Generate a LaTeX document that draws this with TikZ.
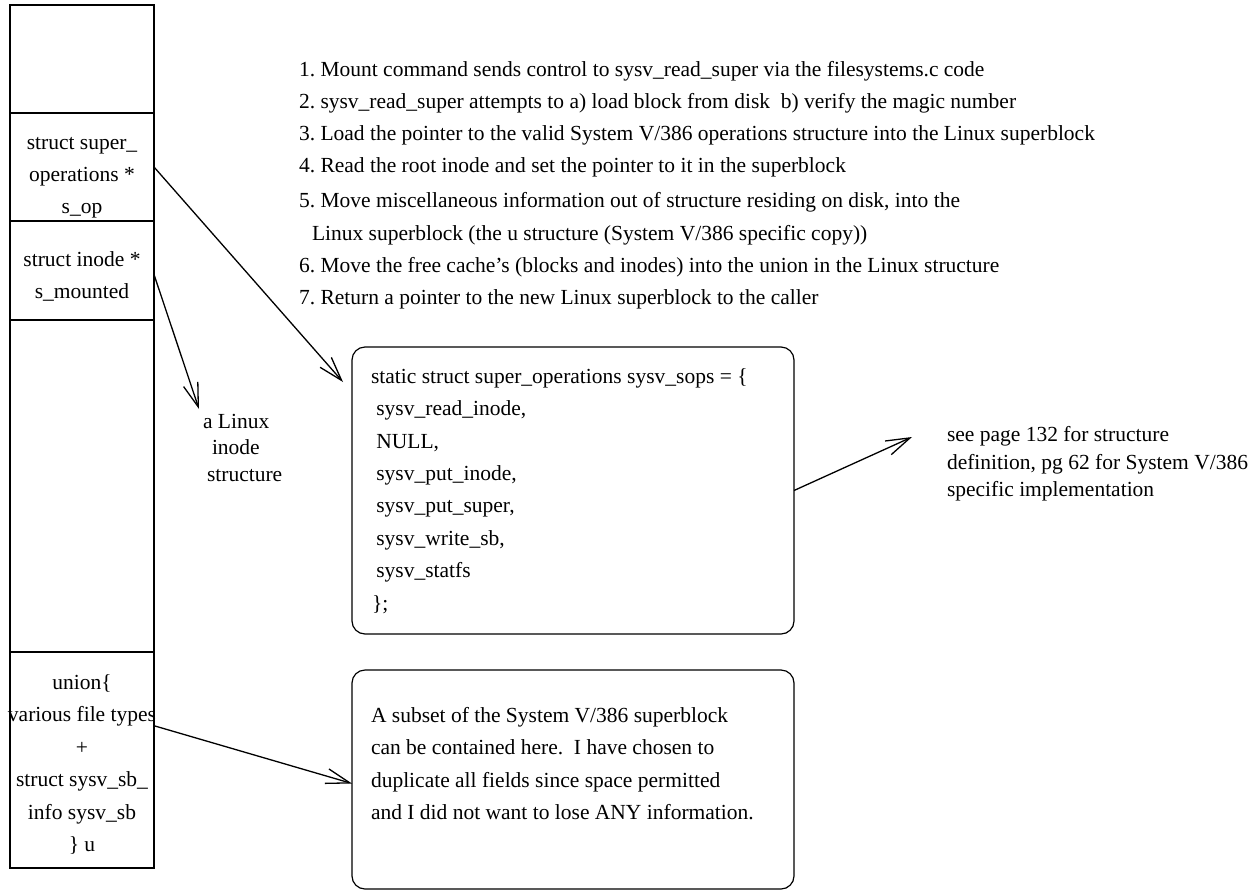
\documentclass[tikz,border=0pt]{standalone}
\usepackage{fontspec}
\setmainfont{Liberation Serif}
\usetikzlibrary{arrows.meta}
\begin{document}
\begin{tikzpicture}[x=1pt,y=-1pt,
  every node/.style={font=\fontsize{21.5}{24}\selectfont\frenchspacing, inner sep=0pt, outer sep=0pt},
  cell/.style={draw, line width=1.1pt, minimum width=144pt},
  lbl/.style={anchor=base},
  lt/.style={anchor=base west},
  rbox/.style={draw, line width=1.2pt, rounded corners=13pt, minimum width=442pt},
  arr/.style={line width=1.3pt, -{Straight Barb[length=24pt,width=15pt,line width=1.3pt]}}]
\useasboundingbox (0,0) rectangle (1260,892);

% column of the superblock
\node[cell, minimum height=108pt] (c0) at (82,59) {};
\node[cell, minimum height=108pt] (c1) at (82,167) {};
\node[cell, minimum height=99pt] (c2) at (82,270.5) {};
\node[cell, minimum height=332pt] (c3) at (82,486) {};
\node[cell, minimum height=216pt] (c4) at (82,760) {};
\draw[line width=2pt] (c2.north west) -- (c2.north east);

\node[lbl] (s1) at (82,149) {struct super\_};
\node[lbl] (s2) at (82,181) {operations *};
\node[lbl] (s3) at (82,213) {s\_op};
\node[lbl] (i1) at (82,266) {struct inode *};
\node[lbl] (i2) at (82,298) {s\_mounted};
\node[lbl] (u1) at (82,689) {union\{};
\node[lbl] (u2) at (82,721) {various file types};
\node[lbl] (u3) at (82,754) {+};
\node[lbl] (u4) at (82,786) {struct sysv\_sb\_};
\node[lbl] (u5) at (82,819) {info sysv\_sb};
\node[lbl] (u6) at (82,851) {\} u};

% numbered list
\node[lt] (l1) at (299,76) {1. Mount command sends control to sysv\_read\_super via the filesystems.c code};
\node[lt] (l2) at (299,108) {2. sysv\_read\_super attempts to a) load block from disk\ \ b) verify the magic number};
\node[lt] (l3) at (299,140) {3. Load the pointer to the valid System V/386 operations structure into the Linux superblock};
\node[lt] (l4) at (299,172) {4. Read the root inode and set the pointer to it in the superblock};
\node[lt] (l5) at (299,207) {5. Move miscellaneous information out of structure residing on disk, into the};
\node[lt] (l5b) at (312,240) {Linux superblock (the u structure (System V/386 specific copy))};
\node[lt] (l6) at (299,272) {6. Move the free cache’s (blocks and inodes) into the union in the Linux structure};
\node[lt] (l7) at (299,304) {7. Return a pointer to the new Linux superblock to the caller};

% sops box
\node[rbox, minimum height=287pt] (sops) at (573,490.5) {};
\node[lt] (o1) at (371,383) {static struct super\_operations sysv\_sops = \{};
\node[lt] (o2) at (371,415) {\ sysv\_read\_inode,};
\node[lt] (o3) at (371,448) {\ NULL,};
\node[lt] (o4) at (371,480) {\ sysv\_put\_inode,};
\node[lt] (o5) at (371,512) {\ sysv\_put\_super,};
\node[lt] (o6) at (371,545) {\ sysv\_write\_sb,};
\node[lt] (o7) at (371,577) {\ sysv\_statfs};
\node[lt] (o8) at (372,610) {\};};

% subset box
\node[rbox, minimum height=219pt] (sub) at (573,779.5) {};
\node[lt] (b1) at (371,722) {A subset of the System V/386 superblock};
\node[lt] (b2) at (371,754) {can be contained here.\ \ I have chosen to};
\node[lt] (b3) at (371,787) {duplicate all fields since space permitted};
\node[lt] (b4) at (371,819) {and I did not want to lose ANY information.};

% right note
\node[lt] (r1) at (947,441) {see page 132 for structure};
\node[lt] (r2) at (947,469) {definition, pg 62 for System V/386};
\node[lt] (r3) at (947,496) {specific implementation};

% a Linux inode structure
\node[lt] (a1) at (203,428) {a Linux};
\node[lt] (a2) at (212,454) {inode};
\node[lt] (a3) at (207,481) {structure};

% arrow ends
\coordinate (sopsTip) at (343,382);
\coordinate (inoTip) at (199,409);
\coordinate (uStart) at (155,726);
\coordinate (noteTip) at (912,437);

\draw[arr] (c1.east) -- (sopsTip);
\draw[arr] ([yshift=-4pt]c2.east) -- (inoTip);
\draw[arr] (uStart) -- ([yshift=-4pt]sub.west);
\draw[arr] (sops.east) -- (noteTip);
\end{tikzpicture}
\end{document}
